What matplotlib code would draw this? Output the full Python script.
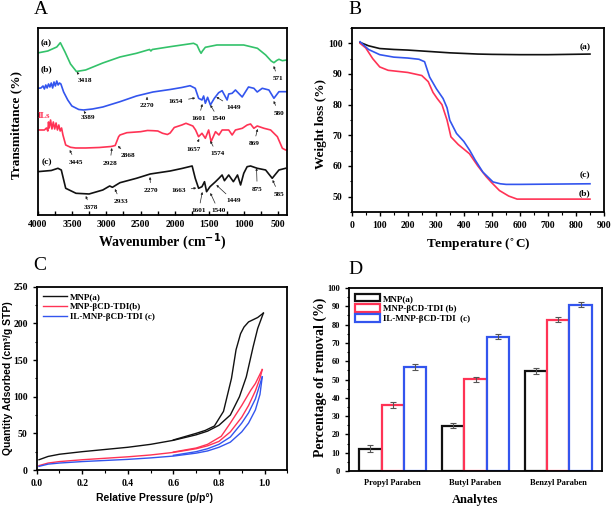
import matplotlib
matplotlib.use("Agg")
import matplotlib.pyplot as plt
from matplotlib.ticker import MultipleLocator
from matplotlib.patches import Patch

SERIF = "Liberation Serif"
SANS = "Liberation Sans"

GREEN = "#33c26a"
BLUE = "#3355ee"
RED = "#ff3355"
BLACK = "#111111"

# ---- A: FTIR spectra (wavenumber, transmittance in arbitrary offset units)
ftir_a_wn = [4000, 3850, 3720, 3668, 3600, 3520, 3434, 3300, 3050, 2800, 2560, 2370, 2350,
             2330, 2070, 1900, 1730, 1680, 1640, 1620, 1600, 1558, 1390, 1000, 800, 680,
             600, 560, 520, 487, 437, 374]
ftir_a_t = [162, 164, 168, 172.3, 163, 151, 143.5, 145, 152, 158, 161.7, 165.5, 164,
            165.5, 168.3, 170, 171.7, 170, 164, 161.7, 164, 167.7, 170, 170, 166.7, 160,
            154, 152.3, 154.5, 155.7, 154.3, 155]

ftir_b_wn = [4000, 3950, 3920, 3900, 3880, 3860, 3840, 3820, 3800, 3780, 3760, 3740, 3720,
             3700, 3680, 3660, 3620, 3560, 3500, 3400, 3330, 3200, 3050, 2800, 2560, 2320,
             2070, 1900, 1780, 1705, 1656, 1607, 1583, 1558, 1525, 1485, 1427, 1364, 1314,
             1241, 1218, 1168, 1120, 1022, 930, 852, 803, 730, 633, 560, 487, 374]
ftir_b_t = [126.7, 127, 129, 126, 130, 127, 131, 128, 132, 127, 133, 129, 134,
            130, 132, 131, 123, 115, 109, 105.5, 105, 106, 108, 113.3, 119, 123,
            125.5, 127.5, 129.3, 126.7, 116.7, 115, 119, 111.7, 117.7, 110, 116.7, 122.3, 124.3,
            115, 121, 121.7, 125, 118, 128, 126.7, 123, 126.7, 125, 116.7, 123.3, 123.3]

ftir_il_wn = [4000, 3900, 3870, 3850, 3840, 3830, 3810, 3790, 3770, 3750,
              3730, 3710, 3690, 3670, 3650, 3630, 3590, 3520, 3445, 3300, 3100, 2928, 2870,
              2850, 2820, 2800, 2700, 2500, 2400, 2320, 2250, 2180, 2110, 2070, 2010, 1900,
              1840, 1740, 1700, 1657, 1607, 1558, 1510, 1475, 1410, 1360, 1314, 1218, 1168,
              1120, 1020, 949, 900, 852, 803, 705, 608, 510, 437, 390, 374]
ftir_il_t = [85, 85, 87, 84, 93, 87, 95, 86, 93, 86,
             92, 85, 90, 84, 87, 80, 70, 67.7, 67, 67, 67.5, 68.5, 69.5,
             73, 78.3, 80, 82.3, 83.3, 84.5, 84.3, 84, 81.7, 80.5, 82, 87.5, 90,
             91.7, 89, 85, 78.3, 81.7, 76.7, 85, 73.3, 83.3, 80, 85, 85, 80,
             85, 86.7, 90, 91, 86.7, 89, 86.7, 85, 78.3, 66.7, 65, 65]

ftir_c_wn = [4000, 3800, 3703, 3654, 3590, 3440, 3250, 3050, 2950, 2910, 2800, 2560, 2360,
             2070, 1900, 1750, 1705, 1656, 1607, 1570, 1540, 1490, 1410, 1360, 1314, 1280,
             1218, 1150, 1090, 1045, 999, 950, 900, 803, 681, 585, 487, 390]
ftir_c_t = [43.3, 44.5, 46.7, 45, 26.7, 21.7, 21, 25, 29, 27.7, 32.3, 36.7, 41,
            44, 46.5, 49, 36.7, 26.7, 28.3, 33.3, 23.3, 28.3, 33.3, 36.7, 40, 34.3,
            40, 33.3, 40, 30, 41.7, 48.3, 49, 46.7, 45, 36.7, 45, 46.7]

# peak labels: text, text (wn, T), arrow tip (wn, T)
ftir_peaks = [
    ("3418", 3313, 134, 3430, 143), ("571", 496, 136, 564, 149),
    ("3389", 3265, 97.7, 3327, 104), ("2270", 2411, 109, 2406, 118),
    ("1654", 1987, 113.7, 1705, 117), ("1601", 1656, 96.7, 1602, 111),
    ("1540", 1364, 96, 1485, 110), ("1449", 1145, 107.3, 1398, 118),
    ("580", 487, 101.7, 564, 114),
    ("3445", 3444, 52.7, 3532, 65), ("2928", 2947, 51.7, 2918, 67),
    ("2868", 2680, 59, 2830, 69), ("1657", 1730, 65.7, 1646, 76),
    ("1574", 1387, 61, 1485, 74), ("869", 852, 71, 798, 86),
    ("3378", 3230, 7.3, 3298, 19), ("2933", 2791, 13.3, 2874, 26),
    ("2270", 2352, 24.3, 2363, 38), ("1663", 1949, 24.3, 1690, 27),
    ("1601", 1656, 4, 1602, 23), ("1540", 1364, 4, 1485, 22),
    ("1449", 1145, 14, 1398, 30), ("875", 803, 25.7, 813, 47),
    ("585", 487, 20.7, 579, 35),
]

# ---- B: TGA
tga_a_x = [30, 60, 100, 150, 200, 250, 300, 350, 400, 450, 500, 600, 700, 850]
tga_a_y = [100.3, 99.2, 98.3, 98.0, 97.8, 97.5, 97.2, 96.9, 96.7, 96.5, 96.4, 96.3, 96.3, 96.5]
tga_b_x = [30, 50, 75, 100, 130, 200, 250, 273, 290, 305, 322, 340, 354, 380, 400, 420,
           450, 480, 500, 527, 560, 590, 850]
tga_b_y = [100, 98.5, 95, 92.3, 91.2, 90.5, 89.5, 87.5, 84, 82, 80, 75, 69.5, 67, 65.5, 64,
           60, 56.5, 54.5, 52, 50.2, 49.2, 49.2]
tga_c_x = [30, 60, 100, 150, 200, 240, 260, 278, 302, 326, 340, 350, 374, 400, 421, 440,
           468, 504, 530, 551, 600, 850]
tga_c_y = [100.5, 98, 96.3, 95.5, 95.2, 94.8, 94, 89, 85.2, 82, 79, 74.9, 70.6, 68, 65.1, 62,
           58, 54.8, 54.2, 54, 54, 54.2]

# ---- C: N2 isotherms (adsorption / desorption branches)
bet_a_ads_p = [0.01, 0.05, 0.1, 0.2, 0.3, 0.4, 0.5, 0.6, 0.7, 0.75, 0.8, 0.85, 0.89, 0.92, 0.95, 0.97, 0.995]
bet_a_ads_q = [14, 18.5, 21.5, 25, 28, 31, 35, 40.5, 48, 53, 61, 75, 100, 127, 168, 193, 214]
bet_a_des_p = [0.995, 0.97, 0.93, 0.91, 0.895, 0.875, 0.855, 0.82, 0.78, 0.74, 0.7, 0.6]
bet_a_des_q = [214, 208, 202, 195, 186, 164, 125, 80, 60, 54, 50, 41]
bet_b_ads_p = [0.01, 0.05, 0.1, 0.2, 0.3, 0.4, 0.5, 0.6, 0.7, 0.75, 0.8, 0.85, 0.9, 0.93, 0.96, 0.98, 0.99]
bet_b_ads_q = [6, 9.5, 11.5, 14, 16, 18, 20.5, 24, 29, 33, 39, 52, 72, 88, 108, 125, 137]
bet_b_des_p = [0.99, 0.96, 0.94, 0.9, 0.85, 0.81, 0.75, 0.7, 0.6]
bet_b_des_q = [137, 118, 109, 88, 64, 46, 35, 30, 24.5]
bet_c_ads_p = [0.01, 0.05, 0.1, 0.2, 0.3, 0.4, 0.5, 0.6, 0.7, 0.75, 0.8, 0.85, 0.9, 0.93, 0.96, 0.98, 0.99]
bet_c_ads_q = [5, 8, 9.5, 11.5, 13, 14.5, 16.5, 19, 23, 26, 31, 38, 52, 64, 82, 103, 127]
bet_c_des_p = [0.99, 0.96, 0.93, 0.9, 0.85, 0.8, 0.75, 0.7, 0.6]
bet_c_des_q = [127, 97, 78, 64, 45, 35, 29, 25, 20]

# ---- D: removal
analytes = ["Propyl Paraben", "Butyl Paraben", "Benzyl Paraben"]
removal_a = [12.2, 24.8, 54.8]
removal_b = [36.0, 50.2, 82.7]
removal_c = [57.0, 73.5, 91.0]
err_a = [1.8, 1.5, 1.6]
err_b = [1.5, 1.3, 1.4]
err_c = [1.7, 1.5, 1.4]

sb = {"family": SERIF, "weight": "bold"}

fig = plt.figure(figsize=(6.14, 5.08), dpi=100)

# ---------------- A
axA = fig.add_axes([0.0611, 0.5768, 0.4063, 0.3681])
axA.plot(ftir_a_wn, ftir_a_t, color=GREEN, lw=1.2)
axA.plot(ftir_b_wn, ftir_b_t, color=BLUE, lw=1.2)
axA.plot(ftir_il_wn, ftir_il_t, color=RED, lw=1.2)
axA.plot(ftir_c_wn, ftir_c_t, color=BLACK, lw=1.2)
axA.set_xlim(4000, 370)
axA.set_ylim(0, 187)
axA.set_yticks([])
axA.xaxis.set_major_locator(MultipleLocator(500))
axA.xaxis.set_minor_locator(MultipleLocator(250))
axA.tick_params(axis="x", which="both", direction="in", length=3, width=1)
for lab, tx, ty, ax_, ay in ftir_peaks:
    axA.annotate(lab, xy=(ax_, ay), xytext=(tx, ty), ha="center", va="center",
                 fontsize=5.2, fontfamily=SERIF, fontweight="bold",
                 arrowprops=dict(arrowstyle="-|>", color="#222222", lw=0.5,
                                 mutation_scale=3, shrinkA=2, shrinkB=0))
axA.text(3868, 172, "(a)", ha="center", va="center", fontsize=6.8, **sb)
axA.text(3868, 146, "(b)", ha="center", va="center", fontsize=6.8, **sb)
axA.text(3900, 99, "ILs", ha="center", va="center", fontsize=6.2, color=RED, zorder=5, **sb)
axA.text(3868, 52.7, "(c)", ha="center", va="center", fontsize=6.8, **sb)
axA.set_xlabel("Wavenumber (cm$^{\\mathbf{-1}}$)", fontsize=10, **sb)
axA.set_ylabel("Transmittance (%)", fontsize=9.5, **sb)
axA.xaxis.set_label_coords(0.5, -0.14)
axA.yaxis.set_label_coords(-0.085, 0.48)
axA.xaxis.label.set_va("center")
axA.yaxis.label.set_va("center")

# ---------------- B
axB = fig.add_axes([0.5728, 0.5827, 0.4109, 0.3622])
axB.plot(tga_a_x, tga_a_y, color=BLACK, lw=1.2)
axB.plot(tga_b_x, tga_b_y, color=RED, lw=1.2)
axB.plot(tga_c_x, tga_c_y, color=BLUE, lw=1.2)
axB.set_xlim(0, 900)
axB.set_ylim(45, 105)
axB.xaxis.set_major_locator(MultipleLocator(100))
axB.xaxis.set_minor_locator(MultipleLocator(50))
axB.yaxis.set_major_locator(MultipleLocator(10))
axB.yaxis.set_minor_locator(MultipleLocator(5))
axB.tick_params(which="major", direction="out", length=3, width=1)
axB.tick_params(which="minor", direction="out", length=1.8, width=0.8)
axB.text(831, 98.8, "(a)", ha="center", va="center", fontsize=6.8, **sb)
axB.text(831, 57, "(c)", ha="center", va="center", fontsize=6.8, **sb)
axB.text(831, 51.2, "(b)", ha="center", va="center", fontsize=6.8, **sb)
axB.set_xlabel("Temperature ($^{\\circ}$C)", fontsize=9.5, **sb)
axB.set_ylabel("Weight loss (%)", fontsize=9.5, **sb)
axB.xaxis.set_label_coords(0.5, -0.18)
axB.yaxis.set_label_coords(-0.12, 0.48)
axB.xaxis.label.set_va("center")
axB.yaxis.label.set_va("center")

# ---------------- C
axC = fig.add_axes([0.0598, 0.0748, 0.4081, 0.3608])
axC.plot(bet_a_ads_p, bet_a_ads_q, color=BLACK, lw=1.0, label="MNP(a)")
axC.plot(bet_a_des_p, bet_a_des_q, color=BLACK, lw=1.0)
axC.plot(bet_b_ads_p, bet_b_ads_q, color=RED, lw=1.0, label="MNP-\u03b2CD-TDI(b)")
axC.plot(bet_b_des_p, bet_b_des_q, color=RED, lw=1.0)
axC.plot(bet_c_ads_p, bet_c_ads_q, color=BLUE, lw=1.0, label="IL-MNP-\u03b2CD-TDI (c)")
axC.plot(bet_c_des_p, bet_c_des_q, color=BLUE, lw=1.0)
axC.set_xlim(0, 1.1)
axC.set_ylim(0, 250)
axC.set_xticks([0.0, 0.2, 0.4, 0.6, 0.8, 1.0])
axC.xaxis.set_minor_locator(MultipleLocator(0.1))
axC.yaxis.set_major_locator(MultipleLocator(50))
axC.yaxis.set_minor_locator(MultipleLocator(25))
axC.tick_params(which="major", direction="out", length=3, width=1)
axC.tick_params(which="minor", direction="out", length=1.8, width=0.8)
axC.legend(loc="upper left", frameon=False, prop={"family": SERIF, "weight": "bold", "size": 6.5},
           handlelength=2.6, handletextpad=0.4, labelspacing=0.15, borderaxespad=0.3)
axC.set_xlabel("Relative Pressure (p/p\u00b0)", fontsize=7.5, fontfamily=SANS, fontweight="bold")
axC.set_ylabel("Quantity Adsorbed (cm\u00b3/g STP)", fontsize=7.5, fontfamily=SANS, fontweight="bold")
axC.xaxis.set_label_coords(0.47, -0.155)
axC.yaxis.set_label_coords(-0.115, 0.5)
axC.xaxis.label.set_va("center")
axC.yaxis.label.set_va("center")

# ---------------- D
axD = fig.add_axes([0.5684, 0.0728, 0.4121, 0.3602])
pos = [1, 2, 3]
w = 0.27
ekw = dict(ecolor="#555555", elinewidth=0.8, capsize=2, capthick=0.8)
axD.bar([p - w for p in pos], removal_a, w, yerr=err_a, facecolor="white", edgecolor=BLACK,
        lw=1.6, error_kw=ekw)
axD.bar(pos, removal_b, w, yerr=err_b, facecolor="white", edgecolor=RED,
        lw=1.6, error_kw=ekw)
axD.bar([p + w for p in pos], removal_c, w, yerr=err_c, facecolor="white", edgecolor=BLUE,
        lw=1.6, error_kw=ekw)
axD.set_xlim(0.47, 3.53)
axD.set_ylim(0, 100)
axD.set_xticks(pos)
axD.set_xticklabels(analytes)
axD.yaxis.set_major_locator(MultipleLocator(10))
axD.yaxis.set_minor_locator(MultipleLocator(5))
axD.tick_params(axis="x", length=0, pad=6)
axD.tick_params(axis="y", which="major", direction="out", length=3, width=1)
axD.tick_params(axis="y", which="minor", direction="out", length=1.8, width=0.8)
hd = [Patch(facecolor="white", edgecolor=c, lw=1.6) for c in (BLACK, RED, BLUE)]
axD.legend(hd, ["MNP(a)", "MNP-\u03b2CD-TDI (b)", "IL-MNP-\u03b2CD-TDI  (c)"], loc="upper left",
           frameon=False, prop={"family": SERIF, "weight": "bold", "size": 6.5},
           handlelength=2.8, handleheight=0.9, handletextpad=0.3, labelspacing=0.15,
           borderaxespad=0.25)
axD.set_xlabel("Analytes", fontsize=9, **sb)
axD.set_ylabel("Percentage of removal (%)", fontsize=10, **sb)
axD.xaxis.set_label_coords(0.5, -0.158)
axD.yaxis.set_label_coords(-0.115, 0.51)
axD.xaxis.label.set_va("center")
axD.yaxis.label.set_va("center")

for ax in (axA, axB, axC, axD):
    for s in ax.spines.values():
        s.set_linewidth(1.3)
    for t in ax.get_xticklabels() + ax.get_yticklabels():
        t.set_fontfamily(SERIF)
        t.set_fontweight("bold")
        t.set_fontsize(7)
for t in axD.get_xticklabels() + axD.get_yticklabels():
    t.set_fontsize(6)

for lab, x, y in (("A", 41, 10), ("B", 355, 10), ("C", 40, 266), ("D", 355, 269)):
    fig.text(x / 614, 1 - y / 508, lab, ha="center", va="center", fontsize=14, fontfamily=SERIF)

fig.savefig("out.png", dpi=100)
